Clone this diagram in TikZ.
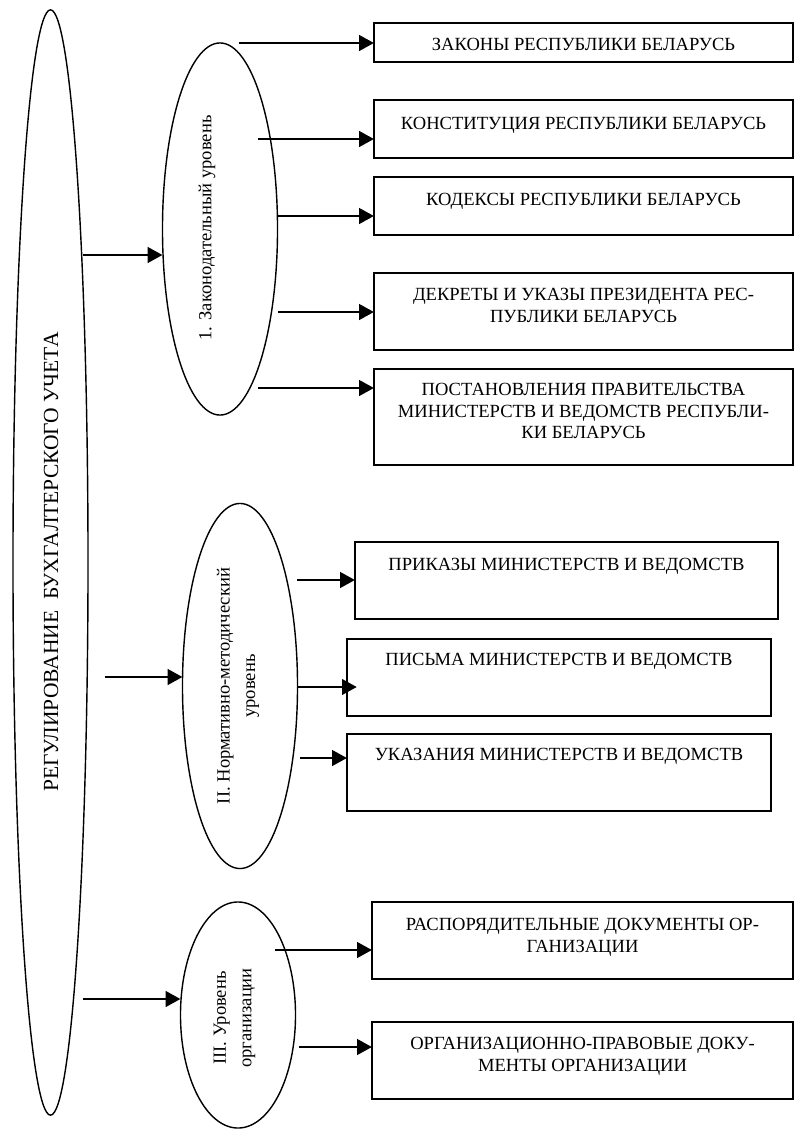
\documentclass[tikz,border=0pt]{standalone}
\usepackage{fontspec}
\setmainfont{Liberation Serif}
\usetikzlibrary{arrows.meta,shapes.geometric}

\begin{document}
\begin{tikzpicture}[x=0.025cm, y=-0.025cm,
    ell/.style={draw, ellipse, line width=1pt, inner sep=0pt, outer sep=0pt},
    box/.style={draw, rectangle, line width=1.1pt, inner sep=0pt, outer sep=0pt},
    txt/.style={anchor=north, align=center, inner sep=0pt, font=\fontsize{13.2}{15.3}\selectfont},
    vtxt/.style={rotate=90, align=center, inner sep=0pt, font=\fontsize{13.2}{18}\selectfont},
    arr/.style={line width=1.8pt, -{Triangle[length=10.5pt, width=11pt]}}
  ]

    % --- Page frame ---
    \useasboundingbox (0,0) rectangle (795,1130);

    % --- Main ellipse on the left ---
    \node[ell, minimum width=1.875cm, minimum height=27.625cm] (main) at (50.5,562.5) {};
    \node[vtxt, font=\fontsize{15.3}{18}\selectfont] (maintxt) at (51,562) {РЕГУЛИРОВАНИЕ\ \ БУХГАЛТЕРСКОГО УЧЕТА};

    % --- Level ellipses ---
    \node[ell, minimum width=2.875cm, minimum height=9.3cm] (lawlvl) at (220,229) {};
    \node[vtxt] (lawtxt) at (207,228) {1. Законодательный уровень};

    \node[ell, minimum width=2.875cm, minimum height=9.125cm] (normlvl) at (240,686) {};
    \node[vtxt] (normtxt) at (238,686) {II. Нормативно-методический\\уровень};

    \node[ell, minimum width=2.875cm, minimum height=5.65cm] (orglvl) at (238,1015) {};
    \node[vtxt] (orgtxt) at (234.5,1018) {III. Уровень\\организации};

    % --- Boxes of the first level ---
    \node[box, minimum width=10.475cm, minimum height=0.975cm] (laws) at (583.5,42.5) {};
    \node[box, minimum width=10.475cm, minimum height=1.45cm] (constit) at (583.5,129) {};
    \node[box, minimum width=10.475cm, minimum height=1.45cm] (codes) at (583.5,206) {};
    \node[box, minimum width=10.475cm, minimum height=1.925cm] (decrees) at (583.5,311.5) {};
    \node[box, minimum width=10.475cm, minimum height=2.4cm] (resol) at (583.5,417) {};

    \node[txt] at (laws.center |- 0,38) {ЗАКОНЫ РЕСПУБЛИКИ БЕЛАРУСЬ};
    \node[txt] at (constit.center |- 0,117) {КОНСТИТУЦИЯ РЕСПУБЛИКИ БЕЛАРУСЬ};
    \node[txt] at (codes.center |- 0,193) {КОДЕКСЫ РЕСПУБЛИКИ БЕЛАРУСЬ};
    \node[txt] at (decrees.center |- 0,288) {ДЕКРЕТЫ И УКАЗЫ ПРЕЗИДЕНТА РЕС-\\ПУБЛИКИ БЕЛАРУСЬ};
    \node[txt] at (resol.center |- 0,383) {ПОСТАНОВЛЕНИЯ ПРАВИТЕЛЬСТВА\\МИНИСТЕРСТВ И ВЕДОМСТВ РЕСПУБЛИ-\\КИ БЕЛАРУСЬ};

    % --- Boxes of the second level ---
    \node[box, minimum width=10.575cm, minimum height=1.925cm] (orders) at (566.5,580.5) {};
    \node[box, minimum width=10.6cm, minimum height=1.925cm] (letters) at (559,677.5) {};
    \node[box, minimum width=10.6cm, minimum height=1.925cm] (instr) at (559,772.5) {};

    \node[txt] at (orders.center |- 0,558) {ПРИКАЗЫ МИНИСТЕРСТВ И ВЕДОМСТВ};
    \node[txt] at (letters.center |- 0,653) {ПИСЬМА МИНИСТЕРСТВ И ВЕДОМСТВ};
    \node[txt] at (instr.center |- 0,748) {УКАЗАНИЯ МИНИСТЕРСТВ И ВЕДОМСТВ};

    % --- Boxes of the third level ---
    \node[box, minimum width=10.525cm, minimum height=1.925cm] (orgdisp) at (582.5,940.5) {};
    \node[box, minimum width=10.525cm, minimum height=1.925cm] (orglegal) at (582.5,1060.5) {};

    \node[txt] at (orgdisp.center |- 0,918) {РАСПОРЯДИТЕЛЬНЫЕ ДОКУМЕНТЫ ОР-\\ГАНИЗАЦИИ};
    \node[txt] at (orglegal.center |- 0,1037) {ОРГАНИЗАЦИОННО-ПРАВОВЫЕ ДОКУ-\\МЕНТЫ ОРГАНИЗАЦИИ};

    % --- Arrow start points ---
    \coordinate (mLaw) at (83,255);
    \coordinate (mNorm) at (105,677);
    \coordinate (mOrg) at (83,999);

    \coordinate (sLaws) at (239,43);
    \coordinate (sConstit) at (258,139);
    \coordinate (sCodes) at (278,216);
    \coordinate (sDecrees) at (278,312);
    \coordinate (sResol) at (258,388);

    \coordinate (sOrders) at (297,580);
    \coordinate (sLetters) at (298,687);
    \coordinate (sInstr) at (300,758);

    \coordinate (sOrgdisp) at (275,950);
    \coordinate (sOrglegal) at (299,1047);

    % --- Arrows from the main ellipse ---
    \draw[arr] (mLaw) -- (mLaw -| lawlvl.west);
    \draw[arr] (mNorm) -- (mNorm -| normlvl.west);
    \draw[arr] (mOrg) -- (mOrg -| orglvl.west);

    % --- Arrows to the boxes ---
    \draw[arr] (sLaws) -- (sLaws -| laws.west);
    \draw[arr] (sConstit) -- (sConstit -| constit.west);
    \draw[arr] (sCodes) -- (sCodes -| codes.west);
    \draw[arr] (sDecrees) -- (sDecrees -| decrees.west);
    \draw[arr] (sResol) -- (sResol -| resol.west);

    \draw[arr] (sOrders) -- (sOrders -| orders.west);
    \draw[arr, shorten >=-7pt] (sLetters) -- (sLetters -| letters.west);
    \draw[arr] (sInstr) -- (sInstr -| instr.west);

    \draw[arr] (sOrgdisp) -- (sOrgdisp -| orgdisp.west);
    \draw[arr] (sOrglegal) -- (sOrglegal -| orglegal.west);

\end{tikzpicture}
\end{document}
